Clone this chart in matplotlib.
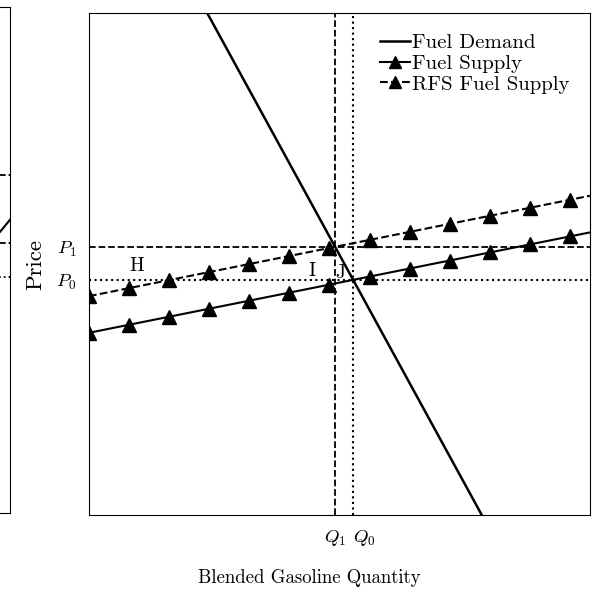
import matplotlib
matplotlib.use("Agg")
import matplotlib.pyplot as plt

plt.rcParams['font.family'] = ['cmr10', 'DejaVu Serif']
plt.rcParams['mathtext.fontset'] = 'cm'
plt.rcParams['axes.formatter.use_mathtext'] = True

# supply curves (quantity, price)
supply_x = [0, 0.8, 1.6, 2.4, 3.2, 4.0, 4.8, 5.6, 6.4, 7.2, 8.0, 8.8, 9.6, 10]
supply_y = [3.63, 3.79, 3.95, 4.11, 4.27, 4.43, 4.59, 4.75, 4.91, 5.07, 5.23, 5.39, 5.55, 5.63]
rfs_y = [4.36, 4.52, 4.68, 4.84, 5.00, 5.16, 5.32, 5.48, 5.64, 5.80, 5.96, 6.12, 6.28, 6.36]
demand_x = [2.36, 7.84]
demand_y = [10, 0]

Q1, Q0 = 4.91, 5.27
P0, P1 = 4.68, 5.34

area_labels = ["H", "I", "J"]
area_x = [0.95, 4.45, 5.01]
area_y = [4.95, 4.87, 4.83]

# left neighbour panel (only its edge is visible)
left_levels = [6.68, 5.34, 4.66]
left_styles = ['--', '--', ':']
left_sx = [9.0, 10.0]
left_sy = [4.6, 5.8]

fig = plt.figure(figsize=(6, 6.03), dpi=100)

axl = fig.add_axes([-0.818, 0.1493, 0.835, 0.839])
axl.plot(left_sx, left_sy, color='black', lw=1.5)
for lv, ls in zip(left_levels, left_styles):
	axl.axhline(lv, color='black', ls=ls, lw=1.3)
axl.set_xlim(0, 10)
axl.set_ylim(0, 10)
axl.set_xticks([])
axl.set_yticks([])

ax = fig.add_axes([0.1483, 0.1459, 0.835, 0.8325])
ax.plot(demand_x, demand_y, color='black', lw=1.8, label="Fuel Demand")
ax.plot(supply_x, supply_y, color='black', lw=1.5, marker='^', ms=10,
	markevery=slice(0, 13), label="Fuel Supply")
ax.plot(supply_x, rfs_y, color='black', lw=1.5, ls='--', marker='^', ms=10,
	markevery=slice(0, 13), label="RFS Fuel Supply")
ax.axvline(Q1, color='black', ls='--', lw=1.3)
ax.axvline(Q0, color='black', ls=':', lw=1.5)
ax.axhline(P1, color='black', ls='--', lw=1.3)
ax.axhline(P0, color='black', ls=':', lw=1.5)

for t, x, y in zip(area_labels, area_x, area_y):
	ax.text(x, y, t, fontsize=14, ha='center', va='center')

ax.set_xlim(0, 10)
ax.set_ylim(0, 10)
ax.set_xticks([Q1, Q0])
ax.set_xticklabels(["$Q_1$", "$Q_0$"], fontsize=13.5)
ax.get_xticklabels()[1].set_ha('left')
ax.set_yticks([P0, P1])
ax.set_yticklabels(["$P_0$", "$P_1$"], fontsize=13.5)
ax.tick_params(length=0, pad=9)
ax.set_xlabel("Blended Gasoline Quantity", fontsize=13.5)
ax.xaxis.set_label_coords(0.439, -0.107)
ax.set_ylabel("Price", fontsize=16.5)
ax.yaxis.set_label_coords(-0.088, 0.5)

ax.legend(loc='upper right', frameon=False, fontsize=15, handlelength=1.4,
	handletextpad=0.1, labelspacing=0.1, borderaxespad=0.6, markerscale=0.85)

plt.savefig("out.png")
